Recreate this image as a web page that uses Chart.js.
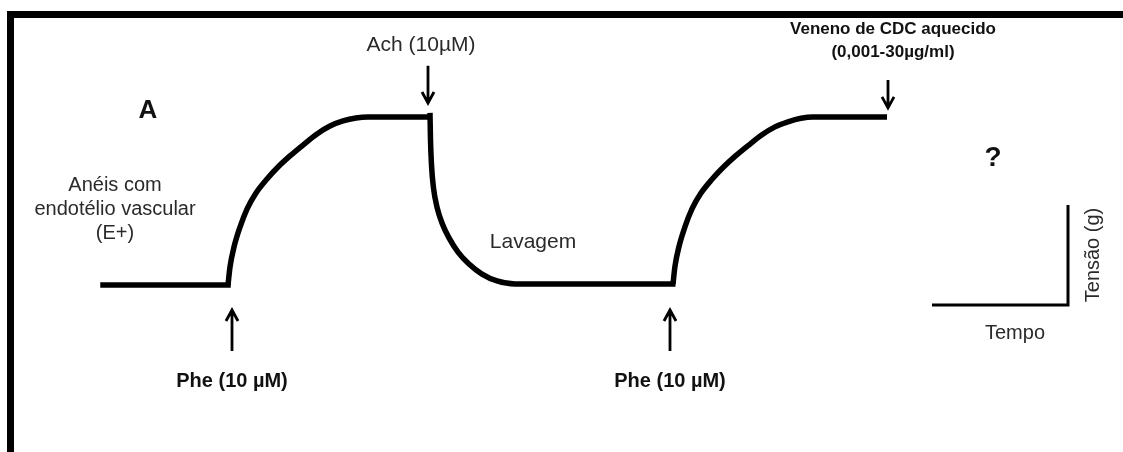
<!DOCTYPE html>
<html>
<head>
<meta charset="utf-8">
<script src="https://cdn.jsdelivr.net/npm/chart.js@4.4.0/dist/chart.umd.min.js"></script>
<style>
html, body { margin: 0; padding: 0; background: #fff; }
#wrap { width: 1123px; height: 452px; }
</style>
</head>
<body>
<div id="wrap"><canvas id="trace" width="1123" height="452"></canvas></div>
<script>
// time in arbitrary units, tension normalised so the Phe plateau = 1
const baseT1 = [0.3, 12.8];
const baseG1 = [0, 0];
const riseT1 = [12.8, 13.0, 13.4, 14.0, 14.7, 15.6, 16.7, 17.8, 19.0, 20.3, 21.7, 23.0, 24.3, 25.6, 26.8, 33.0];
const riseG1 = [0, 0.107, 0.226, 0.345, 0.452, 0.548, 0.631, 0.702, 0.768, 0.833, 0.899, 0.946, 0.976, 0.994, 1.0, 1.0];
const washT = [33.0, 33.05, 33.15, 33.35, 33.7, 34.2, 34.9, 35.8, 36.9, 38.2, 39.7, 41.5, 57.55];
const washG = [1.024, 0.863, 0.714, 0.577, 0.464, 0.369, 0.28, 0.196, 0.125, 0.065, 0.024, 0.006, 0.006];
const riseT2 = [57.3, 57.5, 57.9, 58.5, 59.2, 60.1, 61.2, 62.3, 63.5, 64.8, 66.2, 67.5, 68.8, 70.1, 71.3, 78.7];
const riseG2 = [0.006, 0.112, 0.229, 0.347, 0.453, 0.547, 0.629, 0.699, 0.765, 0.829, 0.894, 0.941, 0.971, 0.992, 1.0, 1.0];

// calibration bar (tempo / tensão)
const barT = [83.2, 96.8, 96.8];
const barG = [-0.119, -0.119, 0.476];

// drug additions
const pheT = [13.2, 57.0];
const achT = 32.8;
const venomT = 78.8;

const pheLabel = "Phe (10 \u00b5M)";
const achLabel = "Ach (10\u00b5M)";
const venomLabel = ["Veneno de CDC aquecido", "(0,001-30\u00b5g/ml)"];
const ringLabel = ["An\u00e9is com", "endot\u00e9lio vascular", "(E+)"];

function pts(t, g) {
    return t.map((v, i) => ({ x: v, y: g[i] }));
}

function traceSet(t, g) {
    return {
        data: pts(t, g),
        showLine: true,
        borderColor: "#000",
        borderWidth: 5.5,
        pointRadius: 0,
        cubicInterpolationMode: "monotone",
        fill: false
    };
}

function arrow(ctx, x, yTail, yTip) {
    const d = yTip > yTail ? 1 : -1;
    ctx.beginPath();
    ctx.moveTo(x, yTail);
    ctx.lineTo(x, yTip);
    ctx.moveTo(x - 6, yTip - d * 11);
    ctx.lineTo(x, yTip);
    ctx.lineTo(x + 6, yTip - d * 11);
    ctx.stroke();
}

const overlay = {
    id: "overlay",
    afterDatasetsDraw(chart) {
        const ctx = chart.ctx;
        const xs = chart.scales.x, ys = chart.scales.y;
        ctx.save();

        // frame
        ctx.fillStyle = "#000";
        ctx.fillRect(7, 11, 1116, 7);
        ctx.fillRect(7, 11, 7, 441);

        // arrows
        ctx.strokeStyle = "#000";
        ctx.lineWidth = 2.8;
        pheT.forEach(t => arrow(ctx, xs.getPixelForValue(t), ys.getPixelForValue(-0.393), ys.getPixelForValue(-0.149)));
        arrow(ctx, xs.getPixelForValue(achT), ys.getPixelForValue(1.304), ys.getPixelForValue(1.083));
        arrow(ctx, xs.getPixelForValue(venomT), ys.getPixelForValue(1.22), ys.getPixelForValue(1.054));

        ctx.textAlign = "center";
        ctx.textBaseline = "middle";
        const sans = "'Liberation Sans', Arial, sans-serif";

        // bold labels
        ctx.fillStyle = "#111";
        ctx.font = "bold 20px " + sans;
        pheT.forEach(t => ctx.fillText(pheLabel, xs.getPixelForValue(t), 381));
        ctx.font = "bold 17px " + sans;
        ctx.fillText(venomLabel[0], 893, 29);
        ctx.fillText(venomLabel[1], 893, 52);
        ctx.font = "bold 26px " + sans;
        ctx.fillText("A", 148, 111);
        ctx.font = "bold 28px " + sans;
        ctx.fillText("?", 993, 158);

        // regular labels
        ctx.fillStyle = "#2a2a2a";
        ctx.font = "21px " + sans;
        ctx.fillText(achLabel, 421, 45);
        ctx.fillText("Lavagem", 533, 242);
        ctx.font = "20px " + sans;
        ringLabel.forEach((s, i) => ctx.fillText(s, 115, 185 + i * 24));
        ctx.fillText("Tempo", 1015, 333);
        ctx.translate(1093, 255);
        ctx.rotate(-Math.PI / 2);
        ctx.fillText("Tens\u00e3o (g)", 0, 0);

        ctx.restore();
    }
};

const baseSet = Object.assign(traceSet(baseT1, baseG1), { borderCapStyle: "square" });
const barSet = Object.assign(traceSet(barT, barG), { borderWidth: 3, cubicInterpolationMode: "default", tension: 0 });

new Chart(document.getElementById("trace"), {
    type: "scatter",
    data: {
        datasets: [
            baseSet,
            traceSet(riseT1, riseG1),
            traceSet(washT, washG),
            traceSet(riseT2, riseG2),
            barSet
        ]
    },
    options: {
        responsive: false,
        animation: false,
        devicePixelRatio: 1,
        layout: { padding: 0 },
        events: [],
        plugins: {
            legend: { display: false },
            tooltip: { enabled: false }
        },
        scales: {
            x: { type: "linear", min: -10, max: 102.3, display: false },
            y: { type: "linear", min: -0.994, max: 1.696, display: false }
        }
    },
    plugins: [overlay]
});
</script>
</body>
</html>
